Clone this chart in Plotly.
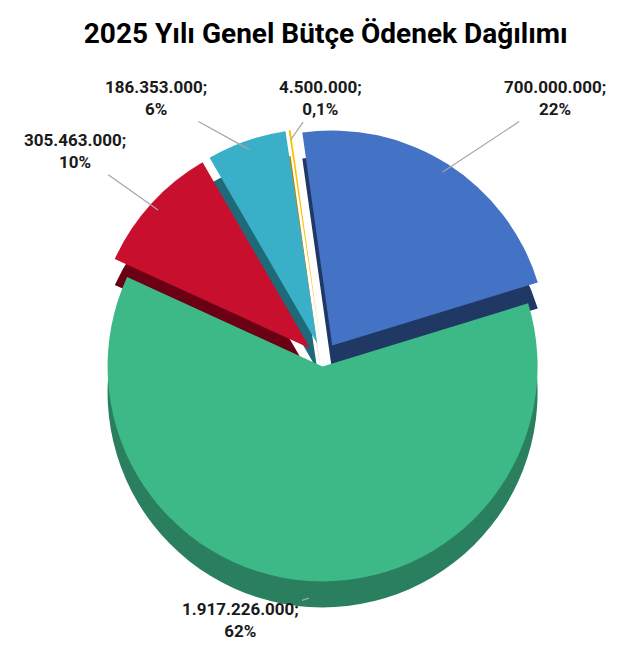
import math
import plotly.graph_objects as go

# ---- data ----
categories = ["Kalem A", "Kalem B", "Kalem C", "Kalem D", "Kalem E"]
values = [700000000, 1917226000, 305463000, 186353000, 4500000]
value_labels = ["700.000.000", "1.917.226.000", "305.463.000", "186.353.000", "4.500.000"]
pct_labels = ["22%", "62%", "10%", "6%", "0,1%"]

# ---- style ----
colors = ["#4472C4", "#3DB887", "#C8102E", "#3AB0C8", "#FFC000"]
side_colors = ["#1F3864", "#2A7F5E", "#6B0014", "#1F6A78", "#B08600"]
pulls = [0.08, 0.03, 0.08, 0.08, 0.08]
rotation = -8

W, H = 617, 645
cx, cy = 315, 352          # pie centre (pixels)
R = 215                    # pie radius (pixels)
depth = 26                 # pixels of "3D" side
half = R * (1 + max(pulls))

def dom(cx_px, cy_px):
    return dict(x=[(cx_px - half) / W, (cx_px + half) / W],
                y=[1 - (cy_px + half) / H, 1 - (cy_px - half) / H])

common = dict(values=values, sort=False, direction="clockwise",
              rotation=rotation, pull=pulls, textinfo="none", showlegend=False)

fig = go.Figure()
fig.add_trace(go.Pie(**common, labels=[c + " " for c in categories],
                     domain=dom(cx, cy + depth), hoverinfo="skip",
                     marker=dict(colors=side_colors, line=dict(width=0))))
fig.add_trace(go.Pie(**common, labels=categories, domain=dom(cx, cy),
                     marker=dict(colors=colors, line=dict(width=0))))

# label positions (pixel centres of the text blocks)
label_pos = [(547, 90), (232, 612), (67, 143), (148, 90), (312, 90)]

total = sum(values)
acc = 0
for i, v in enumerate(values):
    mid = rotation + (acc + v / 2) / total * 360
    acc += v
    th = math.radians(mid)
    r = R * (1 + pulls[i]) * 0.96
    tx = cx + r * math.sin(th)
    ty = cy - r * math.cos(th)
    if i == 1:
        ty += depth
    lx, ly = label_pos[i]
    fig.add_annotation(
        x=tx / W, y=1 - ty / H, xref="paper", yref="paper",
        ax=lx - tx, ay=ly - ty, axref="pixel", ayref="pixel",
        text=f"<b>{value_labels[i]};<br>{pct_labels[i]}</b>",
        showarrow=True, arrowhead=0, arrowwidth=1.2, arrowcolor="#A6A6A6",
        font=dict(family="Roboto", size=17, color="#1A1A1A"),
        align="center", standoff=0, startstandoff=2,
    )

fig.update_layout(
    width=W, height=H,
    margin=dict(l=0, r=0, t=0, b=0),
    paper_bgcolor="white", plot_bgcolor="white",
    title=dict(text="<b>2025 Yılı Genel Bütçe Ödenek Dağılımı</b>",
               x=0.515, xanchor="center", y=1 - 25 / H, yanchor="middle",
               font=dict(family="Roboto", size=28, color="#000000")),
)

fig.write_html("out.html")
